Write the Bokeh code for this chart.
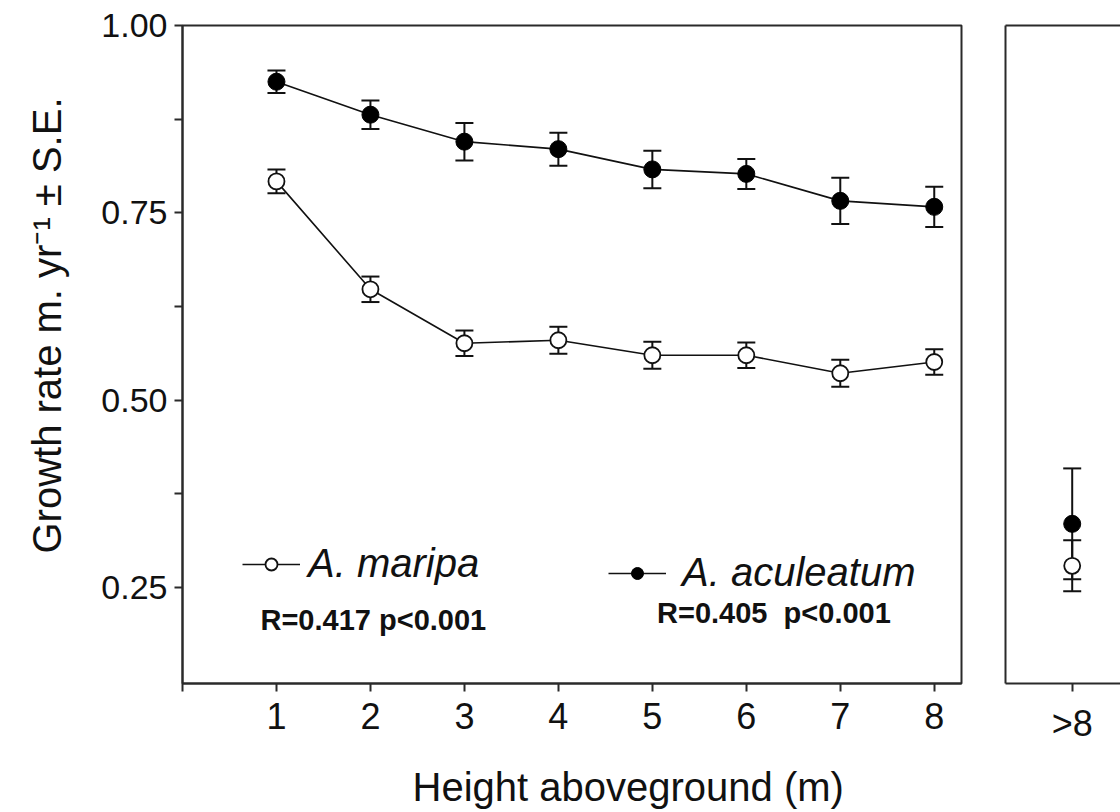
from bokeh.plotting import figure
from bokeh.models import (ColumnDataSource, Range1d, FixedTicker, NumeralTickFormatter,
                          Whisker, TeeHead, Legend, LegendItem, Label, Title, LinearAxis)
from bokeh.layouts import row
from bokeh.embed import file_html
from bokeh.resources import INLINE

# ---- data ----
heights = [1, 2, 3, 4, 5, 6, 7, 8]
maripa_mean = [0.792, 0.648, 0.576, 0.580, 0.560, 0.560, 0.536, 0.551]
maripa_se = [0.016, 0.017, 0.017, 0.018, 0.018, 0.017, 0.018, 0.017]
aculeatum_mean = [0.925, 0.881, 0.845, 0.835, 0.808, 0.802, 0.766, 0.758]
aculeatum_se = [0.015, 0.019, 0.025, 0.022, 0.025, 0.020, 0.031, 0.027]
tall_cat = [0]
tall_label = ">8"
tall_maripa_mean = [0.279]
tall_maripa_se = [0.034]
tall_aculeatum_mean = [0.335]
tall_aculeatum_se = [0.074]
x_ticks = [0, 1, 2, 3, 4, 5, 6, 7, 8]
y_ticks = [0.25, 0.50, 0.75, 1.00]
y_minor = [0.375, 0.625, 0.875]
stats_maripa = "R=0.417 p<0.001"
stats_aculeatum = "R=0.405\u00a0 p<0.001"

FONT = "Liberation Sans"
INK = "#111111"
FRAME = "#2a2a2a"


def src(x, m, s):
    return ColumnDataSource(dict(x=x, y=m,
                                 upper=[a + b for a, b in zip(m, s)],
                                 lower=[a - b for a, b in zip(m, s)]))


def whisker(source):
    return Whisker(source=source, base="x", upper="upper", lower="lower",
                   dimension="height", line_width=2, line_color=INK,
                   upper_head=TeeHead(size=18, line_width=2, line_color=INK),
                   lower_head=TeeHead(size=18, line_width=2, line_color=INK))


def style_axis(ax, size):
    ax.axis_line_width = 2
    ax.axis_line_color = FRAME
    ax.major_tick_line_width = 2
    ax.major_tick_line_color = FRAME
    ax.minor_tick_line_width = 2
    ax.minor_tick_line_color = FRAME
    ax.major_tick_in = 0
    ax.major_tick_out = 8
    ax.minor_tick_in = 0
    ax.minor_tick_out = 8
    ax.major_label_text_font = FONT
    ax.major_label_text_font_size = size
    ax.major_label_text_color = INK
    ax.major_label_standoff = 7


yr = Range1d(0.122, 1.0)

p = figure(frame_width=779, frame_height=658, x_range=Range1d(0, 8.29), y_range=yr,
           output_backend="svg", toolbar_location=None,
           min_border_left=182, min_border_right=10, min_border_top=25, min_border_bottom=127)
p.grid.visible = False
p.outline_line_color = FRAME
p.outline_line_width = 2
p.background_fill_color = "white"
p.border_fill_color = "white"

style_axis(p.xaxis[0], "36px")
style_axis(p.yaxis[0], "34px")
p.xaxis.major_label_standoff = 11
p.xaxis.ticker = FixedTicker(ticks=x_ticks, minor_ticks=[])
p.xaxis.major_label_overrides = {0: ""}
p.yaxis.ticker = FixedTicker(ticks=y_ticks, minor_ticks=y_minor)
p.yaxis.formatter = NumeralTickFormatter(format="0.00")
# spacers between tick labels and the titles
p.yaxis.axis_label = " "
p.yaxis.axis_label_text_font_size = "1px"
p.yaxis.axis_label_standoff = 21
p.xaxis.axis_label = " "
p.xaxis.axis_label_text_font_size = "1px"
p.xaxis.axis_label_standoff = 22

s_m = src(heights, maripa_mean, maripa_se)
s_a = src(heights, aculeatum_mean, aculeatum_se)
p.add_layout(whisker(s_a))
p.add_layout(whisker(s_m))
l_a = p.line("x", "y", source=s_a, line_width=1.6, line_color=INK)
l_m = p.line("x", "y", source=s_m, line_width=1.6, line_color=INK)
c_a = p.scatter("x", "y", source=s_a, size=17, fill_color="black", line_color="black")
c_m = p.scatter("x", "y", source=s_m, size=16, fill_color="white", line_color=INK, line_width=1.8)

leg_common = dict(orientation="horizontal", glyph_width=58, glyph_height=30,
                  padding=0, margin=0, border_line_color=None, background_fill_alpha=0,
                  label_text_font=FONT, label_text_font_style="italic",
                  label_text_font_size="40px", label_text_color=INK)
leg1 = Legend(items=[LegendItem(label="A. maripa", renderers=[l_m, c_m])],
              location=(60, 97), label_standoff=8, **leg_common)
leg2 = Legend(items=[LegendItem(label="A. aculeatum", renderers=[l_a, c_a])],
              location=(426, 88), label_standoff=16, **leg_common)
p.add_layout(leg1, "center")
p.add_layout(leg2, "center")

p.add_layout(Label(x=0.83, y=0.207, text=stats_maripa, text_font=FONT, text_font_style="bold",
                   text_font_size="29px", text_color=INK, text_baseline="middle"))
p.add_layout(Label(x=5.05, y=0.216, text=stats_aculeatum, text_font=FONT, text_font_style="bold",
                   text_font_size="29px", text_color=INK, text_baseline="middle"))

p.add_layout(Title(text="Growth rate m. yr\u207b\u00b9 \u00b1 S.E.", align="right", offset=72,
                   text_font=FONT, text_font_size="40px", text_font_style="normal",
                   text_color=INK), "left")
p.add_layout(Title(text="Height aboveground (m)", align="left", offset=230,
                   text_font=FONT, text_font_size="40px", text_font_style="normal",
                   text_color=INK), "below")

# ---- right panel (>8 m) ----
q = figure(frame_width=115, frame_height=658, x_range=Range1d(-1.0, 0.724), y_range=yr,
           output_backend="svg", toolbar_location=None,
           min_border_left=34, min_border_right=0, min_border_top=25, min_border_bottom=127)
q.grid.visible = False
q.outline_line_color = None
q.background_fill_color = "white"
q.border_fill_color = "white"
style_axis(q.xaxis[0], "36px")
style_axis(q.yaxis[0], "34px")
q.xaxis.major_label_standoff = 11
q.xaxis.ticker = FixedTicker(ticks=tall_cat, minor_ticks=[])
q.xaxis.major_label_overrides = {0: tall_label}
q.yaxis.ticker = FixedTicker(ticks=[], minor_ticks=[])
q.yaxis.major_tick_out = 0
q.yaxis.minor_tick_out = 0
q.yaxis.major_label_standoff = 0
top = LinearAxis(ticker=FixedTicker(ticks=[], minor_ticks=[]), axis_line_width=2,
                 axis_line_color=FRAME, major_tick_out=0, minor_tick_out=0,
                 major_label_standoff=0)
q.add_layout(top, "above")

t_m = src(tall_cat, tall_maripa_mean, tall_maripa_se)
t_a = src(tall_cat, tall_aculeatum_mean, tall_aculeatum_se)
q.add_layout(whisker(t_a))
q.add_layout(whisker(t_m))
q.scatter("x", "y", source=t_a, size=17, fill_color="black", line_color="black")
q.scatter("x", "y", source=t_m, size=16, fill_color="white", line_color=INK, line_width=1.8)

layout = row(p, q)
open("out.html", "w").write(file_html(layout, INLINE))
